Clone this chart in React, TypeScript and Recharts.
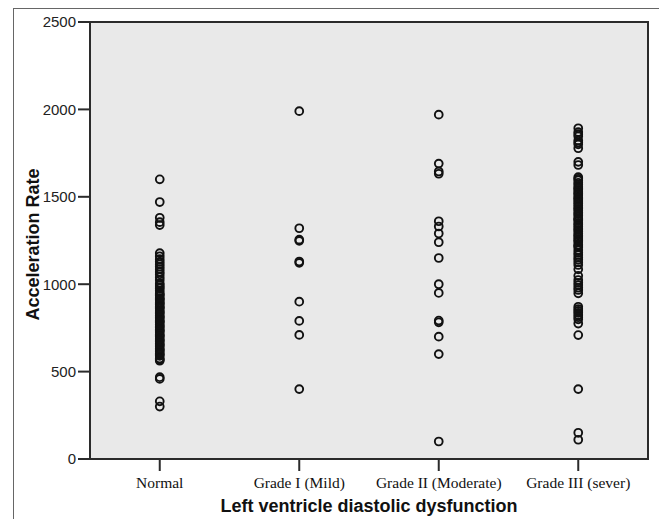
import React from 'react';
import {
  ScatterChart, Scatter, XAxis, YAxis, ReferenceArea, CartesianGrid,
} from 'recharts';

// categories on the x axis
const categories = ['Normal', 'Grade I (Mild)', 'Grade II (Moderate)', 'Grade III (sever)'];

// acceleration rate readings per group
const normal = [
  1600, 1470, 1380, 1355, 1338, 1178, 1160, 1143, 1128, 1114, 1100, 1086, 1070, 1057, 1040,
  1024, 1005, 995, 984, 976, 962, 948, 940, 936, 921, 915, 910, 897, 891, 884, 871, 866,
  860, 846, 840, 832, 820, 812, 806, 793, 787, 781, 768, 760, 752, 740, 734, 727, 712, 705,
  700, 686, 679, 672, 660, 652, 645, 631, 624, 617, 604, 598, 590, 575, 568, 562, 468, 458,
  330, 300,
];
const gradeI = [1990, 1320, 1255, 1248, 1130, 1122, 900, 790, 710, 400];
const gradeII = [1970, 1690, 1645, 1632, 1360, 1330, 1290, 1240, 1150, 1000, 950, 792, 782, 700, 600, 100];
const gradeIII = [
  1892, 1870, 1858, 1846, 1822, 1810, 1800, 1778, 1700, 1682,
  1612, 1603, 1595, 1580, 1571, 1556, 1548, 1540, 1528, 1519, 1510, 1497, 1490, 1482, 1470,
  1461, 1451, 1440, 1431, 1423, 1410, 1401, 1392, 1378, 1370, 1366, 1350, 1342, 1331, 1320,
  1311, 1302, 1288, 1279, 1270, 1258, 1250, 1241, 1226, 1219, 1212,
  1195, 1180, 1167, 1152, 1140, 1125, 1110, 1085, 1048, 1024, 1008, 995, 980, 967, 948,
  871, 858, 847, 836, 824, 811, 799, 775, 709, 400, 150, 110,
];

const yTicks = [0, 500, 1000, 1500, 2000, 2500];

const groups = [normal, gradeI, gradeII, gradeIII];
const points = groups.flatMap((vals, i) => vals.map(v => ({ x: i, y: v })));

const axisColor = '#2b2b2b';
const sans = 'Arial, "Liberation Sans", sans-serif';

const Ring = (props: any) => (
  <circle cx={props.cx} cy={props.cy} r={3.9} fill="none" stroke="#111" strokeWidth={1.9} />
);

export default function App() {
  return (
    <div style={{ position: 'absolute', left: 0, top: 0, width: 659, height: 519, background: '#fff' }}>
      <div style={{
        position: 'absolute', left: 13, top: 8, right: 0, bottom: 0,
        borderLeft: '1px solid #666', borderTop: '1px solid #666',
      }} />
      <div style={{ position: 'absolute', left: 0, top: 0 }}>
        <ScatterChart width={659} height={519} margin={{ top: 22, right: 11, left: 0, bottom: 0 }}>
          <CartesianGrid horizontal={false} vertical={false} fill="#e9e9e9" />
          <XAxis
            type="number"
            dataKey="x"
            domain={[-0.5, 3.5]}
            ticks={[0, 1, 2, 3]}
            tickFormatter={(v: number) => categories[v]}
            height={60}
            tickSize={12}
            tickMargin={6}
            stroke={axisColor}
            strokeWidth={2}
            tick={{ fill: '#111', fontSize: 15.5, fontFamily: '"Liberation Serif", "DejaVu Serif", serif' }}
            label={{
              content: () => (
                <text x={369} y={512} textAnchor="middle"
                  style={{ fontFamily: sans, fontWeight: 'bold', fontSize: 18, fill: '#111' }}>
                  Left ventricle diastolic dysfunction
                </text>
              ),
            }}
          />
          <YAxis
            type="number"
            dataKey="y"
            domain={[0, 2500]}
            ticks={yTicks}
            width={90}
            tickSize={12}
            tickMargin={2}
            stroke={axisColor}
            strokeWidth={2}
            tick={{ fill: '#222', fontSize: 15, fontFamily: sans }}
            label={{
              content: () => (
                <text x={0} y={0} textAnchor="middle"
                  transform={`translate(39, ${22 + 437 / 2 + 4}) rotate(-90)`}
                  style={{ fontFamily: sans, fontWeight: 'bold', fontSize: 18, fill: '#111' }}>
                  Acceleration Rate
                </text>
              ),
            }}
          />
          <ReferenceArea x1={-0.5} x2={3.5} y1={0} y2={2500} fill="none" stroke={axisColor} strokeWidth={2} ifOverflow="visible" />
          <Scatter data={points} shape={Ring} isAnimationActive={false} />
        </ScatterChart>
      </div>
    </div>
  );
}
